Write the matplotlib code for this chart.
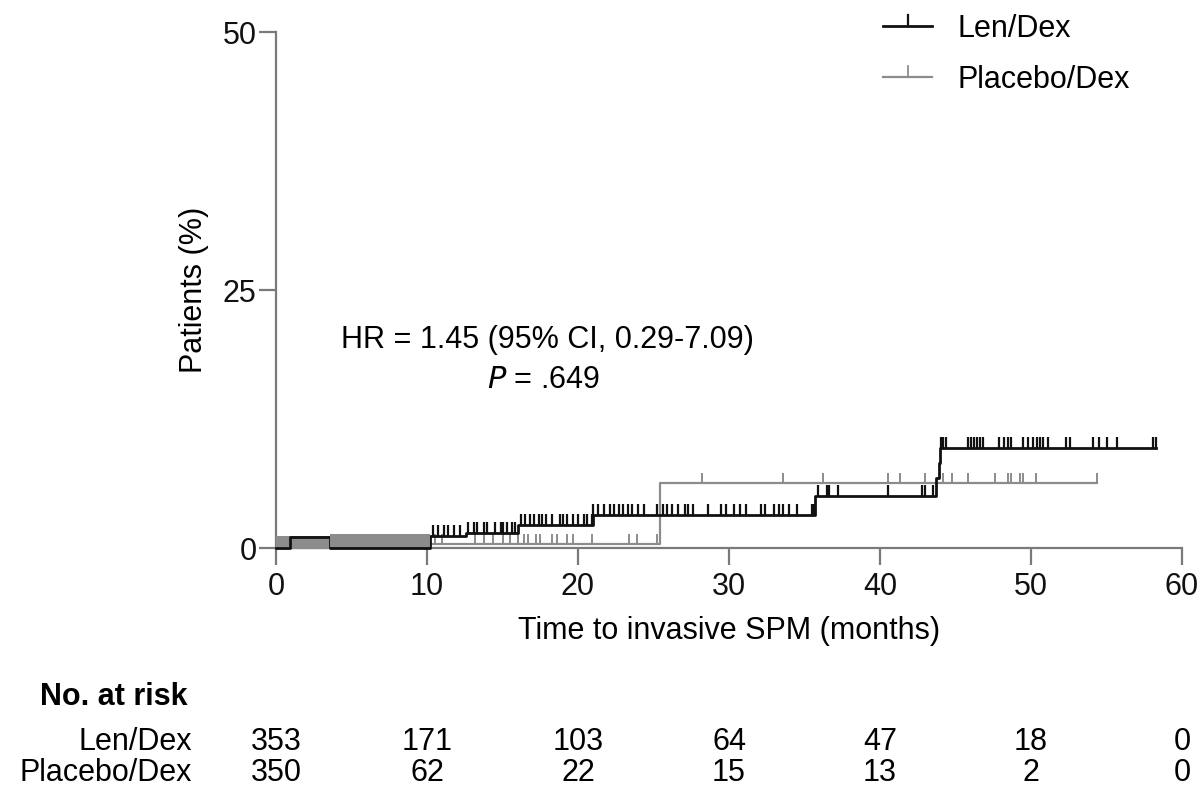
import matplotlib
matplotlib.use("Agg")
import matplotlib.pyplot as plt
from matplotlib.path import Path
import numpy as np

plt.rcParams['font.family'] = ['Liberation Sans', 'DejaVu Sans']

# ---- data ----
len_times = [0, 0.9, 3.6, 10.2, 12.6, 16.0, 21.0, 35.7, 43.7, 43.9, 44.0, 58.3]
len_values = [0, 1.1, 0.0, 1.2, 1.5, 2.2, 3.2, 5.0, 6.8, 8.2, 9.7, 9.7]

pla_times = [0, 3.6, 10.2, 25.4, 54.4]
pla_values = [0, 0.2, 0.4, 6.3, 6.3]

len_censor = [10.4, 10.7, 11.1, 11.4, 11.8, 12.2,
              12.7, 13.1, 13.3, 13.8, 14.0, 14.5, 14.9, 15.0, 15.3, 15.6, 15.8,
              16.2, 16.5, 16.8, 17.1, 17.4, 17.6, 17.9, 18.3, 18.8, 19.0, 19.3,
              19.7, 20.0, 20.4, 20.6, 20.9,
              21.0, 21.3, 21.7, 22.1, 22.4, 22.7, 23.0, 23.3, 23.6, 24.0, 24.4,
              25.2, 25.6, 25.9, 26.2, 26.6, 27.1, 27.3, 27.6, 28.6, 29.5, 29.8,
              30.3, 30.7, 31.1, 32.1, 32.4, 33.0, 33.3, 33.6, 34.0, 34.5, 35.5, 35.6,
              35.9, 36.5, 36.6, 37.2, 40.5, 42.8, 43.0, 43.5,
              44.05, 44.2, 44.4, 45.8, 46.0, 46.2, 46.4, 46.6, 46.8,
              47.9, 48.2, 48.5, 48.7, 49.5, 49.8, 50.1, 50.4, 50.6, 50.8, 51.1,
              52.3, 52.6, 54.1, 54.5, 55.0, 55.7, 58.1, 58.3]

pla_censor = [8.0, 8.5, 9.7, 10.5, 11.0, 13.2, 13.8, 14.4, 15.0, 15.5, 16.0, 16.4,
              16.7, 17.2, 17.5, 18.3, 18.6, 19.3, 19.7, 20.9, 23.4, 23.9, 25.2,
              28.2, 33.6, 36.2, 40.5, 41.3, 43.0, 44.2, 44.8, 45.8, 47.6, 48.5,
              48.7, 49.3, 49.5, 50.3, 54.4]
pla_dense_censor_span = [(0.0, 3.6), (3.6, 10.2)]

xticks = [0, 10, 20, 30, 40, 50, 60]
yticks = [0, 25, 50]
risk_len = [353, 171, 103, 64, 47, 18, 0]
risk_pla = [350, 62, 22, 15, 13, 2, 0]


def level_at(times, values, t):
    i = np.searchsorted(times, t, side='right') - 1
    return values[max(i, 0)]


BLACK = '#111111'
GRAY = '#8c8c8c'
AXC = '#7a7a7a'
FS = 22

W, H = 1201, 789
fig = plt.figure(figsize=(W / 100, H / 100), dpi=100)
ax = fig.add_axes([276 / W, 1 - 548 / H, (1182 - 276) / W, (548 - 32) / H])
ax.set_xlim(0, 60)
ax.set_ylim(0, 50)

tick_path = Path([(0, 0), (0, 1)])

# placebo
ax.step(pla_times, pla_values, where='post', color=GRAY, lw=1.6, zorder=3, clip_on=False)
pla_lvls = [level_at(pla_times, pla_values, t) for t in pla_censor]
ax.plot(pla_censor, pla_lvls, ls='none', marker=tick_path, ms=14,
        mec=GRAY, mew=1.4, zorder=3, clip_on=False)
for k, (s, e) in enumerate(pla_dense_censor_span):
    lvl = level_at(pla_times, pla_values, s)
    ax.fill_between([s, e], [lvl - 0.1] * 2, [lvl + 1.2] * 2, color=GRAY, lw=0,
                    zorder=3 if k == 0 else 5)

# len/dex
ax.step(len_times, len_values, where='post', color=BLACK, lw=2.0, zorder=4, clip_on=False)
len_lvls = [level_at(len_times, len_values, t) for t in len_censor]
ax.plot(len_censor, len_lvls, ls='none', marker=tick_path, ms=16,
        mec=BLACK, mew=1.6, zorder=4, clip_on=False)

for side in ['top', 'right']:
    ax.spines[side].set_visible(False)
for side in ['left', 'bottom']:
    ax.spines[side].set_color(AXC)
    ax.spines[side].set_linewidth(1.6)
ax.set_xticks(xticks)
ax.set_yticks(yticks)
ax.tick_params(axis='both', direction='out', length=12, width=1.6, color=AXC,
               labelsize=FS, labelcolor='#111111', pad=2)
ax.tick_params(axis='x', pad=5)
ax.set_xlabel('Time to invasive SPM (months)', fontsize=FS, labelpad=10)
ax.set_ylabel('Patients (%)', fontsize=FS, labelpad=10)

ax.text(17.95, 20.15, 'HR = 1.45 (95% CI, 0.29-7.09)', fontsize=FS, ha='center', va='center')
ax.text(17.7, 16.3, r'$\it{P}$ = .649', fontsize=FS, ha='center', va='center')


# legend (drawn manually)
def leg(y, color, lw, label):
    fig.lines.append(plt.Line2D([883 / W, 932 / W], [1 - y / H] * 2, color=color, lw=lw,
                                transform=fig.transFigure))
    fig.lines.append(plt.Line2D([908 / W, 908 / W], [1 - y / H, 1 - (y - 11) / H],
                                color=color, lw=lw * 0.8, transform=fig.transFigure))
    fig.text(958 / W, 1 - (y + 3) / H, label, fontsize=FS, va='center', ha='left')


leg(26, BLACK, 2.0, 'Len/Dex')
leg(77, GRAY, 1.6, 'Placebo/Dex')

# number at risk table
fig.text(40 / W, 1 - 697 / H, 'No. at risk', fontsize=FS, fontweight='bold', va='center')
fig.text(192 / W, 1 - 742 / H, 'Len/Dex', fontsize=FS, va='center', ha='right')
fig.text(192 / W, 1 - 773 / H, 'Placebo/Dex', fontsize=FS, va='center', ha='right')
for xt, a, b in zip(xticks, risk_len, risk_pla):
    xf = fig.transFigure.inverted().transform(ax.transData.transform((xt, 0)))[0]
    fig.text(xf, 1 - 742 / H, str(a), fontsize=FS, va='center', ha='center')
    fig.text(xf, 1 - 773 / H, str(b), fontsize=FS, va='center', ha='center')

fig.savefig('out.png', dpi=100)
